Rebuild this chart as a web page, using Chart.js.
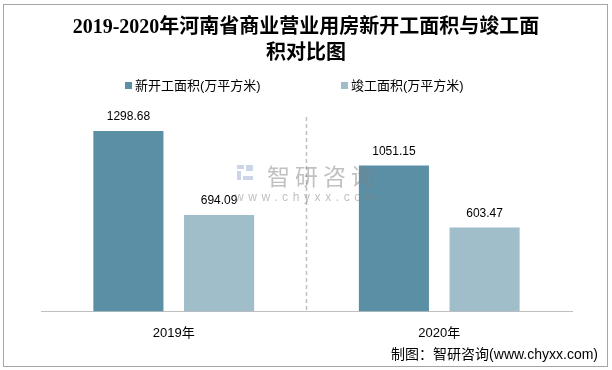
<!DOCTYPE html>
<html>
<head>
<meta charset="utf-8">
<script src="https://cdn.jsdelivr.net/npm/chart.js@4"></script>
<style>
  html, body { margin: 0; padding: 0; background: #fff; }
  #wrap { width: 612px; height: 370px; position: relative; }
</style>
</head>
<body>
<div id="wrap"><canvas id="chart"></canvas></div>
<script>
    'use strict';

    // data
    var categories = ['2019年', '2020年'];
    var newStarts = [1298.68, 1051.15];
    var completed = [694.09, 603.47];
    var seriesNames = ['新开工面积(万平方米)', '竣工面积(万平方米)'];
    var titleLines = ['2019-2020年河南省商业营业用房新开工面积与竣工面', '积对比图'];
    var sourceText = '制图：智研咨询(www.chyxx.com)';

    var colors = ['#5b8fa5', '#a0bdca'];
    var cjk = '"Liberation Sans", "Noto Sans CJK SC", sans-serif';

    // title, legend, divider, labels, watermark and frame
    var decorations = {
        id: 'decorations',
        afterDatasetsDraw: function (chart) {
            var ctx = chart.ctx;
            var area = chart.chartArea;
            var x = chart.scales.x;

            // dashed separator between the two years
            var mid = (x.getPixelForValue(0) + x.getPixelForValue(1)) / 2;
            ctx.save();
            ctx.strokeStyle = '#bfbfbf';
            ctx.lineWidth = 1.5;
            ctx.setLineDash([4, 3]);
            ctx.beginPath();
            ctx.moveTo(mid, area.top);
            ctx.lineTo(mid, area.bottom);
            ctx.stroke();
            ctx.restore();

            // value labels above bars
            ctx.save();
            ctx.font = '12px ' + cjk;
            ctx.fillStyle = '#000';
            ctx.textAlign = 'center';
            ctx.textBaseline = 'middle';
            chart.data.datasets.forEach(function (ds, i) {
                chart.getDatasetMeta(i).data.forEach(function (bar, j) {
                    ctx.fillText(ds.data[j].toFixed(2), bar.x, bar.y - 14);
                });
            });
            ctx.restore();
        },
        afterDraw: function (chart) {
            var ctx = chart.ctx;

            ctx.save();
            // watermark
            ctx.fillStyle = 'rgba(170,185,215,0.6)';
            ctx.fillRect(237, 165, 7, 4);
            ctx.fillRect(237, 171, 4, 9);
            ctx.fillRect(246, 165, 7, 6);
            ctx.fillRect(243, 176, 10, 4);
            ctx.fillStyle = 'rgba(130,130,130,0.5)';
            ctx.textBaseline = 'middle';
            ctx.textAlign = 'left';
            ctx.font = '23px "Noto Sans CJK SC", sans-serif';
            ctx.letterSpacing = '5px';
            ctx.fillText('智研咨询', 267, 176);
            ctx.font = '12px ' + cjk;
            ctx.letterSpacing = '4.6px';
            ctx.fillText('www.chyxx.com', 235, 198);
            ctx.letterSpacing = '0px';

            // title
            ctx.fillStyle = '#000';
            ctx.textAlign = 'center';
            ctx.font = 'bold 20px "Liberation Serif", "Noto Sans CJK SC", serif';
            ctx.fillText(titleLines[0], 306, 28);
            ctx.fillText(titleLines[1], 306, 54);

            // legend
            ctx.font = '13px ' + cjk;
            ctx.textAlign = 'left';
            var legendX = [125, 341];
            seriesNames.forEach(function (name, i) {
                ctx.fillStyle = colors[i];
                ctx.fillRect(legendX[i], 82, 7, 7);
                ctx.fillStyle = '#000';
                ctx.fillText(name, legendX[i] + 10, 86);
            });

            // source
            ctx.font = '14px ' + cjk;
            ctx.textAlign = 'right';
            ctx.fillText(sourceText, 598, 355);

            // frame
            ctx.strokeStyle = '#a6a6a6';
            ctx.lineWidth = 1;
            ctx.strokeRect(3.5, 4.5, 604, 362);
            ctx.restore();
        }
    };

    new Chart(document.getElementById('chart'), {
        type: 'bar',
        data: {
            labels: categories,
            datasets: [{
                label: seriesNames[0],
                data: newStarts,
                backgroundColor: colors[0],
                categoryPercentage: 0.683,
                barPercentage: 0.773
            }, {
                label: seriesNames[1],
                data: completed,
                backgroundColor: colors[1],
                categoryPercentage: 0.683,
                barPercentage: 0.773
            }]
        },
        options: {
            responsive: true,
            maintainAspectRatio: false,
            animation: false,
            layout: {
                padding: { left: 41, right: 40, top: 117, bottom: 15 }
            },
            plugins: {
                legend: { display: false },
                title: { display: false },
                tooltip: { enabled: false }
            },
            scales: {
                x: {
                    grid: { display: false, drawTicks: false },
                    border: { display: true, color: '#bfbfbf', width: 1 },
                    ticks: {
                        color: '#000',
                        padding: 14,
                        font: { size: 13, family: '"Liberation Sans", "Noto Sans CJK SC", sans-serif' }
                    }
                },
                y: {
                    display: false,
                    min: 0,
                    max: 1400
                }
            }
        },
        plugins: [decorations]
    });
</script>
</body>
</html>
